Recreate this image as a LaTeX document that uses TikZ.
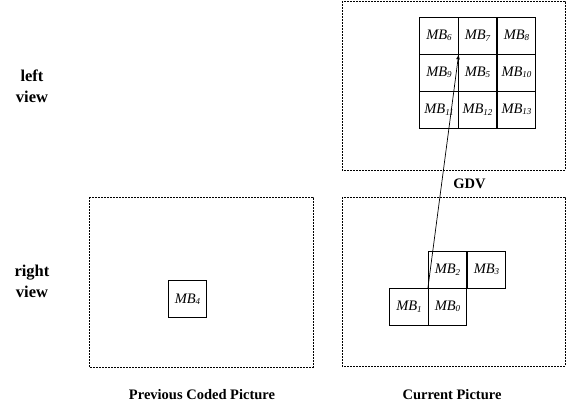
\documentclass[tikz,border=0pt]{standalone}
\usepackage{fontspec}
\setmainfont{Liberation Serif}
\newcommand{\mbsub}[1]{\raisebox{-1.5pt}{\fontsize{9}{10}\selectfont #1}}
\begin{document}
\begin{tikzpicture}[x=1pt,y=-1pt,
  frame/.style={draw,line width=0.6pt,dash pattern=on 2pt off 1pt},
  mb/.style={draw,line width=0.8pt,minimum width=38.5pt,minimum height=37pt,inner sep=0pt,font=\fontsize{14.5}{16}\selectfont\itshape},
  lbl/.style={font=\fontsize{14.5}{16}\selectfont\bfseries,align=center},
  vlbl/.style={font=\fontsize{16.5}{21}\selectfont\bfseries,align=center},
  arr/.style={-latex,line width=0.7pt}]
\useasboundingbox (0,0) rectangle (567,408);
% frames
\draw[frame] (342,1) rectangle (565,170);
\draw[frame] (342,197) rectangle (565,366);
\draw[frame] (89,197) rectangle (313,367);
% grid top
\node[mb] (m6) at (439,35.5) {MB\mbsub{6}};
\node[mb] (m7) at (477.5,35.5) {MB\mbsub{7}};
\node[mb] (m8) at (516.5,35.5) {MB\mbsub{8}};
\node[mb] (m9) at (439,72.5) {MB\mbsub{9}};
\node[mb] (m5) at (477.5,72.5) {MB\mbsub{5}};
\node[mb] (m10) at (516.5,72.5) {MB\mbsub{10}};
\node[mb] (m11) at (439,109.5) {MB\mbsub{11}};
\node[mb] (m12) at (477.5,109.5) {MB\mbsub{12}};
\node[mb] (m13) at (516.5,109.5) {MB\mbsub{13}};
% bottom blocks
\node[mb] (m2) at (447.5,269.5) {MB\mbsub{2}};
\node[mb] (m3) at (486.5,269.5) {MB\mbsub{3}};
\node[mb] (m1) at (409,306.5) {MB\mbsub{1}};
\node[mb] (m0) at (447.5,306.5) {MB\mbsub{0}};
\node[mb] (m4) at (187.5,299) {MB\mbsub{4}};
% arrow
\draw[arr] (m2.south west) -- (m6.south east);
% labels
\node[vlbl] (lv) at (32,86) {left\\view};
\node[vlbl] (rv) at (32,281) {right\\view};
\node[lbl] (gdv) at (469.5,184) {GDV};
\node[lbl] (cp) at (452,395) {Current Picture};
\node[lbl] (pcp) at (202,395) {Previous Coded Picture};
\end{tikzpicture}
\end{document}
